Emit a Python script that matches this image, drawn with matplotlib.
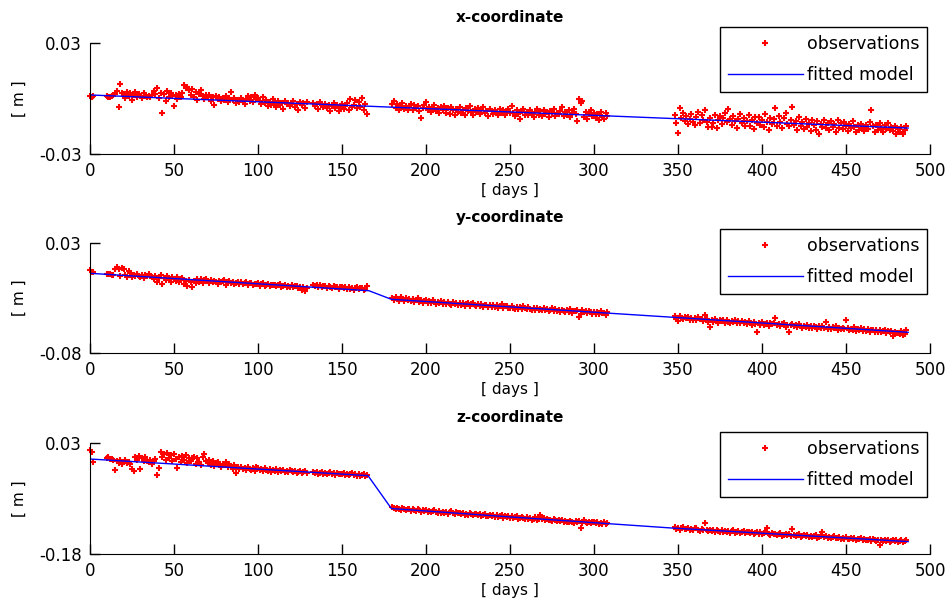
import numpy as np
import matplotlib
matplotlib.use("Agg")
import matplotlib.pyplot as plt

plt.rcParams["font.family"] = ["DejaVu Sans"]
plt.rcParams["axes.unicode_minus"] = False

# observations: (first day, one value per day in mm)
x_obs = [
    (0, [1.2, 0.8, 1.5]),
    (10, [1.6, 1.0, 0.7, 1.2, 1.8, 2.5, 4.1, -4.8, 7.7, 3.0,
          2.2, 0.5, 3.4, 1.1, 2.8, -0.6, 1.9, 3.6, 0.9, 2.4,
          1.5, 0.4, 2.9, 1.1, 0.8, 1.6, 1.0, 1.9, 3.8, 2.6,
          5.5, 0.2, 3.1, -8.0, 2.2, -1.5, 4.2, 0.9, 2.7, 1.3,
          -3.9, 1.8, -0.5, 2.4, 0.6, 3.0, 7.3, 5.6, 6.4, 4.6,
          2.1, 5.0, 0.8, 3.4, -0.9, 2.6, 4.5, 1.2, -0.4, 2.0,
          0.6, 1.8, -1.2, 0.9, -3.5, 1.4, -0.2, 0.7, -1.6, 0.3,
          -0.8, 1.1, -2.1, 0.2, 3.7, -1.0, 0.5, -2.4, -0.6, -1.7,
          0.4, -1.3, -2.8, -0.2, 1.6, -1.1, 0.9, -2.0, 1.8, -0.5,
          0.2, -1.6, -3.0, 1.0, -2.5, -0.8, -4.1, -1.9, -3.3, -0.4,
          -2.2, -4.6, -1.4, -3.6, -2.7, -5.8, -1.1, -3.2, -2.4, -4.0,
          -2.9, -1.2, -4.5, -3.1, -6.2, -2.0, -3.8, -2.6, -4.9, -1.7]),
    (133, [-2.4, -4.3, -3.0, -5.6, -1.9, -3.7, -4.8,
           -2.8, -5.2, -3.5, -6.6, -4.1, -2.3, -5.0, -3.3, -7.0, -4.4,
           -3.0, -5.7, -4.2, -2.6, -6.1, -0.3, -4.8, -3.6, -0.8, -5.3,
           -2.0, -4.5, 0.0, -6.4, -3.1, -8.5]),
    (180, [-3.2, -1.5, -5.1, -2.8, -6.0, -4.3, -2.2, -5.6, -3.9, -6.5,
           -4.5, -2.9, -6.1, -3.6, -5.3, -4.0, -6.8, -10.7, -5.0, -3.4,
           -2.0, -6.2, -4.7, -7.4, -5.5, -3.8, -6.9, -5.0, -8.1, -4.4,
           -6.3, -3.9, -7.6, -5.2, -8.4, -4.6, -6.0, -9.0, -5.7, -7.1,
           -4.8, -7.7, -6.0, -8.8, -5.4, -6.9, -4.2, -7.3, -9.1, -5.9,
           -7.5, -5.1, -8.2, -6.4, -4.8, -7.9, -6.6, -9.3, -5.5, -7.0,
           -8.4, -6.0, -7.3, -9.2, -5.9, -7.8, -6.5, -8.7, -7.1, -5.6,
           -8.0, -4.0, -7.6, -9.5, -6.3, -8.2, -11.0, -7.0, -5.9, -8.9,
           -7.2, -9.0, -6.1, -8.4, -10.2, -7.5, -5.8, -8.8, -7.0, -9.6,
           -6.4, -8.6, -7.4, -10.1, -6.9, -8.0, -5.9, -9.3, -7.7, -8.5,
           -6.6, -4.8, -9.4, -7.3, -8.9, -6.1, -10.0, -7.8, -5.5, -8.3,
           -12.0, -0.3, -2.4, -1.2, -9.8, -7.4, -11.1, -8.2, -6.5, -9.5,
           -7.9, -10.4, -8.6, -11.6, -7.2, -9.8, -10.9, -8.1, -9.4]),
    (348, [-9.0, -13.2, -18.8, -5.0, -10.5, -7.8, -12.4, -9.6, -14.0, -11.2,
           -8.3, -12.9, -14.3, -10.1, -7.4, -13.5, -9.2, -11.8, -6.5, -12.6,
           -15.6, -10.4, -15.2, -13.0, -8.9, -15.9, -11.5, -9.7, -13.8, -10.6,
           -8.1, -12.7, -5.5, -10.9, -14.4, -9.3, -12.0, -16.1, -11.1, -8.6,
           -13.4, -10.3, -15.0, -12.1, -9.0, -14.7, -11.6, -16.5, -10.0, -13.1,
           -9.9, -14.2, -11.8, -15.5, -8.2, -12.6, -16.8, -10.7, -13.9, -11.2,
           -5.3, -14.8, -9.5, -12.9, -16.2, -10.8, -7.6, -13.7, -15.1, -11.4,
           -4.4, -14.1, -12.0, -17.0, -10.2, -14.9, -12.6, -16.3, -11.0, -15.4,
           -13.2, -17.6, -11.7, -14.6, -16.8, -12.4, -19.2, -13.9, -15.7, -11.9,
           -16.0, -13.0, -17.3, -12.2, -15.2, -14.0, -18.1, -11.6, -15.8, -13.5,
           -16.6, -12.9, -15.0, -17.7, -13.8, -16.2, -12.0, -15.5, -18.0, -14.3,
           -16.9, -13.6, -15.8, -17.4, -14.1, -16.3, -12.8, -6.4, -15.0, -17.9,
           -14.6, -16.8, -13.4, -15.9, -18.2, -14.2, -16.5, -13.0, -17.1, -15.3,
           -17.6, -14.8, -19.0, -16.3, -18.4, -15.5, -19.0, -17.2, -14.9]),
]

y_obs = [
    (0, [2.7, 1.5, 0.8]),
    (10, [-0.5, -1.2, -0.8, -1.9, -2.0, 4.5, 5.8, 3.6, -2.8, 5.2,
          4.0, -1.5, -3.6, 2.1, -0.4, -4.2, -1.8, -3.0, -0.9, -2.6,
          -3.8, -2.1, -4.5, -1.6, -3.2, -0.8, -2.9, -4.0, -6.2, -3.1,
          -8.5, -5.0, -2.4, -10.8, -4.6, -7.2, -3.0, -6.1, -8.9, -4.3,
          -5.5, -7.8, -3.9, -9.2, -6.4, -4.7, -11.0, -8.1, -12.6, -6.9,
          -9.4, -13.5, -7.6, -10.2, -5.8, -8.8, -6.3, -9.9, -7.1, -5.9,
          -8.2, -10.0, -6.7, -9.1, -7.5, -8.6, -10.5, -7.9, -9.0, -8.3,
          -7.4, -11.6, -9.3, -8.0, -10.4, -8.8, -11.2, -9.6, -8.5, -10.9,
          -9.3, -11.0, -10.1, -9.2, -11.8, -10.4, -9.7, -12.1, -10.7, -11.3,
          -10.2, -12.5, -11.1, -10.4, -12.8, -11.6, -10.9, -13.0, -11.8, -12.4,
          -11.5, -13.4, -12.2, -11.3, -13.8, -12.6, -12.0, -14.1, -12.9, -13.5,
          -12.4, -14.3, -13.1, -12.7, -15.0, -13.6, -16.8, -14.2, -17.5, -15.1]),
    (133, [-11.8, -13.2, -12.4, -14.0, -11.5, -13.6, -12.9,
           -13.1, -14.5, -12.6, -13.9, -15.2, -12.8, -14.3, -13.5, -15.6, -14.0,
           -13.7, -15.1, -14.4, -16.2, -13.9, -15.5, -14.8, -16.6, -15.0, -14.2,
           -16.0, -15.3, -14.6, -16.9, -15.7, -12.5]),
    (180, [-24.8, -26.9, -23.7, -25.6, -27.8, -24.2, -26.1, -28.3, -25.0, -26.7,
           -25.9, -28.1, -26.4, -29.0, -27.2, -25.3, -28.7, -26.8, -29.5, -27.6,
           -26.9, -29.8, -28.0, -30.4, -27.4, -29.1, -31.2, -28.6, -30.0, -27.8,
           -30.9, -28.7, -31.5, -29.3, -30.6, -32.0, -29.0, -31.1, -30.2, -32.4,
           -29.8, -31.9, -30.4, -32.7, -31.0, -29.6, -33.1, -31.5, -30.3, -32.2,
           -33.4, -31.3, -32.8, -30.7, -34.0, -32.1, -31.6, -33.7, -32.4, -34.5,
           -31.9, -33.6, -32.3, -34.8, -33.0, -31.2, -35.1, -33.4, -32.7, -34.9,
           -35.4, -33.1, -34.6, -36.2, -33.8, -35.7, -34.2, -36.5, -33.5, -35.0,
           -36.3, -34.4, -35.9, -37.0, -34.8, -36.6, -35.3, -37.4, -35.7, -36.9,
           -35.1, -37.5, -36.2, -38.0, -36.7, -35.5, -37.9, -36.4, -38.3, -37.1,
           -38.6, -36.8, -37.7, -39.1, -37.3, -38.9, -36.5, -39.6, -37.9, -38.4,
           -37.2, -43.7, -41.0, -37.5, -39.4, -38.1, -40.2, -37.8, -39.0, -40.6,
           -38.7, -40.9, -39.3, -41.4, -38.5, -40.1, -39.6, -41.8, -38.9]),
    (348, [-43.2, -46.5, -48.5, -42.8, -44.9, -46.0, -43.7, -45.5, -44.1, -46.8,
           -44.6, -46.9, -45.2, -47.5, -44.0, -46.3, -45.8, -47.9, -42.0, -46.1,
           -48.7, -54.0, -47.2, -49.1, -45.9, -48.0, -50.2, -46.8, -48.5, -47.3,
           -49.6, -47.0, -48.8, -50.5, -47.6, -49.3, -46.9, -50.0, -48.2, -49.7,
           -47.8, -50.4, -49.0, -51.2, -48.4, -50.0, -52.3, -48.9, -50.7, -59.0,
           -50.2, -51.8, -49.3, -52.0, -51.0, -49.6, -52.6, -50.5, -51.5, -49.9,
           -45.0, -52.4, -50.7, -53.1, -51.3, -50.2, -53.6, -51.8, -59.0, -52.5,
           -50.9, -53.4, -52.1, -54.3, -51.5, -53.0, -55.0, -52.7, -54.0, -51.8,
           -54.6, -53.1, -55.4, -52.6, -54.2, -56.0, -53.5, -55.2, -52.9, -54.8,
           -49.0, -55.6, -53.9, -56.1, -54.5, -55.3, -53.4, -56.6, -54.9, -55.8,
           -54.7, -56.5, -47.0, -55.0, -57.2, -55.6, -56.9, -54.4, -57.6, -55.9,
           -57.0, -55.3, -58.1, -56.4, -57.7, -55.8, -58.6, -56.9, -57.5, -59.2,
           -56.6, -58.7, -57.4, -59.5, -57.9, -56.8, -60.0, -58.2, -59.1, -57.6,
           -63.0, -58.8, -60.4, -59.6, -61.5, -58.2, -62.0, -60.8, -57.3]),
]

z_obs = [
    (0, [16.8, 13.5, -5.3]),
    (10, [1.5, 3.8, -1.2, 0.6, -3.0, -21.0, -4.5, -8.2, -2.6, -9.6,
          -6.0, -3.1, -8.8, -5.4, -10.2, -18.5, -23.0, 3.6, -1.8, 5.2,
          -19.7, 1.0, -4.2, 2.8, -3.5, -6.9, -1.4, -9.0, -4.6, 0.5,
          -30.5, -18.0, 13.5, 4.0, 9.2, -2.5, 10.6, 1.8, 6.5, -3.8,
          8.9, -0.6, -18.0, 3.2, -6.5, 5.5, -2.0, 7.4, -8.4, 1.6,
          -4.9, 2.5, 4.0, -10.1, 0.8, -6.2, -12.5, 3.0, 10.0, -3.3,
          -7.5, -1.9, -11.4, -4.0, -13.0, -8.6, -5.2, -10.8, -14.5, -9.1,
          -12.2, -6.8, -16.0, -9.5, -13.7, -20.0, -11.3, -27.0, -15.2, -18.4,
          -14.6, -19.9, -16.8, -21.3, -15.4, -18.7, -20.6, -17.1, -22.4, -16.3,
          -18.2, -21.7, -19.5, -23.0, -17.9, -20.8, -22.5, -19.1, -24.1, -20.3,
          -22.8, -19.6, -24.4, -21.5, -23.6, -20.7, -25.2, -22.1, -24.0, -21.3,
          -23.9, -25.8, -22.6, -26.4, -24.5, -23.2, -27.1, -25.0, -23.8, -26.6]),
    (133, [-25.0, -27.3, -24.1, -28.6, -26.2, -24.9, -28.0,
           -26.5, -29.2, -27.7, -25.3, -28.9, -27.0, -30.1, -26.8, -29.4, -27.9,
           -29.6, -27.4, -30.8, -28.5, -31.3, -29.1, -26.2, -30.4, -28.0, -31.9,
           -29.3, -32.0, -30.6, -28.4, -33.1, -31.5]),
    (180, [-91.0, -93.5, -95.8, -92.2, -94.6, -96.9, -93.0, -95.3, -97.4, -94.0,
           -95.1, -97.8, -94.7, -96.5, -99.0, -95.6, -97.2, -99.8, -96.3, -98.1,
           -97.5, -100.2, -98.0, -101.3, -99.4, -97.1, -100.8, -102.0, -98.9, -101.6,
           -99.7, -102.4, -100.5, -103.6, -101.2, -99.0, -102.9, -104.1, -100.8, -103.3,
           -102.0, -104.6, -101.5, -105.3, -103.7, -106.0, -102.8, -104.9, -106.8, -103.9,
           -104.5, -106.9, -105.0, -108.2, -106.1, -104.0, -107.6, -109.0, -105.7, -108.5,
           -106.4, -109.3, -107.0, -110.6, -108.1, -106.9, -111.0, -108.8, -110.2, -107.5,
           -111.4, -109.0, -112.6, -110.3, -108.6, -113.0, -111.1, -109.7, -112.2, -114.1,
           -110.8, -113.5, -111.6, -114.8, -112.9, -110.4, -115.2, -113.1, -106.2, -114.5,
           -112.7, -115.9, -113.8, -116.6, -114.9, -117.4, -113.2, -116.0, -118.1, -115.3,
           -117.8, -115.5, -119.0, -116.9, -118.7, -120.3, -117.2, -119.6, -121.0, -118.1,
           -119.4, -117.0, -131.4, -120.6, -115.7, -119.8, -121.5, -118.9, -122.0, -120.2,
           -119.6, -121.9, -120.4, -123.1, -121.3, -122.6, -120.0, -123.8, -121.7]),
    (348, [-129.5, -132.8, -130.6, -134.0, -131.2, -129.0, -133.5, -131.9, -130.2, -134.4,
           -132.3, -135.0, -131.6, -131.0, -134.2, -136.1, -132.7, -135.5, -122.0, -133.9,
           -136.7, -134.1, -137.2, -135.4, -138.0, -133.8, -136.3, -138.6, -134.9, -137.5,
           -135.6, -138.9, -136.4, -139.4, -137.1, -135.2, -139.9, -137.8, -136.0, -140.2,
           -138.4, -136.9, -141.0, -139.1, -137.6, -140.6, -138.2, -141.5, -139.6, -137.9,
           -141.9, -139.3, -142.4, -140.6, -138.8, -131.4, -141.6, -143.2, -140.1, -142.8,
           -141.4, -144.0, -142.6, -140.5, -145.1, -143.3, -141.8, -144.6, -142.2, -145.7,
           -133.0, -143.4, -146.2, -144.8, -142.9, -147.0, -145.3, -143.6, -146.6, -144.2,
           -147.5, -145.0, -148.2, -146.4, -144.5, -149.0, -146.9, -145.4, -137.8, -148.0,
           -146.3, -149.4, -147.8, -150.1, -148.5, -146.7, -150.6, -148.9, -147.3, -151.0,
           -149.7, -151.6, -148.6, -150.9, -152.4, -149.9, -151.8, -150.2, -153.0, -150.8,
           -152.1, -150.4, -153.6, -151.5, -154.2, -152.7, -150.9, -154.8, -152.3, -153.5,
           -155.0, -152.8, -163.0, -154.3, -156.1, -153.7, -155.5, -152.6, -156.8, -154.9,
           -153.2, -156.0, -154.4, -157.3, -155.1, -153.8, -157.7, -155.9, -154.0]),
]

# fitted model breakpoints (day, mm)
x_model_days = [0, 487]
x_model_mm = [1.9, -16.0]
y_model_days = [0, 166, 179.4, 487]
y_model_mm = [-0.3, -17.7, -26.3, -59.3]
z_model_days = [0, 165.5, 179.4, 248, 347, 487]
z_model_mm = [-0.3, -31.8, -94.0, -109.4, -131.0, -156.5]

titles = ["x-coordinate", "y-coordinate", "z-coordinate"]
ylims = [(-0.03, 0.03), (-0.08, 0.03), (-0.18, 0.03)]
ytick_labels = [["-0.03", "0.03"], ["-0.08", "0.03"], ["-0.18", "0.03"]]
xticks = [0, 50, 100, 150, 200, 250, 300, 350, 400, 450, 500]


def expand(segments):
    days, vals = [], []
    for start, values in segments:
        days += [start + i for i in range(len(values))]
        vals += values
    return np.array(days), np.array(vals) / 1000.0


obs = [x_obs, y_obs, z_obs]
models = [(x_model_days, x_model_mm), (y_model_days, y_model_mm), (z_model_days, z_model_mm)]

# axes boxes in figure fraction: left, bottom, width, height
boxes = [(0.0945, 0.746, 0.8824, 0.183),
         (0.0945, 0.4175, 0.8824, 0.1815),
         (0.0945, 0.0858, 0.8824, 0.1832)]
legend_tops = [1.143, 1.128, 1.098]

fig = plt.figure(figsize=(9.52, 6.06), dpi=100)

for i in range(3):
    ax = fig.add_axes(boxes[i])
    d, v = expand(obs[i])
    ax.plot(d, v, "+", color="red", markersize=4.5, markeredgewidth=1.5,
            label="observations", clip_on=False)
    md, mv = models[i]
    ax.plot(md, np.array(mv) / 1000.0, "-", color="blue", linewidth=1,
            label="fitted model")

    ax.set_xlim(0, 500)
    ax.set_ylim(*ylims[i])
    ax.set_xticks(xticks)
    ax.set_yticks(list(ylims[i]))
    ax.set_yticklabels(ytick_labels[i])
    ax.spines["top"].set_visible(False)
    ax.spines["right"].set_visible(False)
    ax.tick_params(direction="in", length=7, width=1, labelsize=12, pad=6)
    ax.set_title(titles[i], fontsize=11, fontweight="bold", pad=15)
    ax.set_xlabel("[ days ]", fontsize=11, labelpad=2)
    ax.set_ylabel("[ m ]", fontsize=11, labelpad=9)

    leg = ax.legend(loc="upper right", bbox_to_anchor=(0.9964, legend_tops[i]),
                    borderaxespad=0, fontsize=12.5, numpoints=1, handlelength=4.35,
                    handletextpad=0.2, labelspacing=0.75, borderpad=0.45,
                    fancybox=False, framealpha=1, edgecolor="black")
    leg.get_frame().set_linewidth(1)

fig.savefig("out.png", dpi=100)
